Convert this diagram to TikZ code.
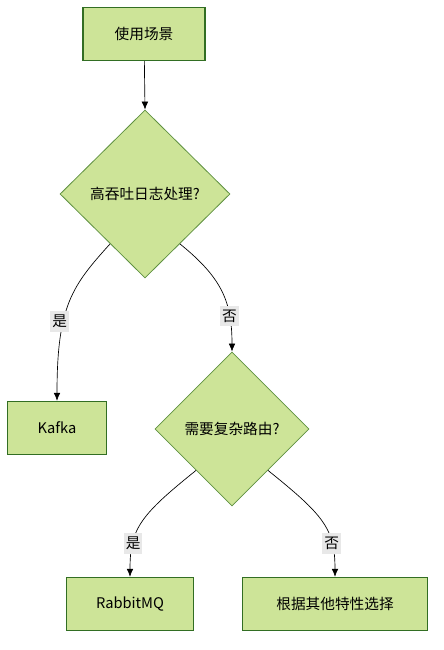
\documentclass[tikz,border=0pt]{standalone}
\usepackage{fontspec}
\setmainfont{Noto Sans CJK SC}
\usetikzlibrary{shapes.geometric,arrows.meta}
\definecolor{boxfill}{RGB}{205,228,152}
\definecolor{boxline}{RGB}{50,110,35}
\definecolor{diamline}{RGB}{95,145,65}
\definecolor{lblgray}{RGB}{232,232,232}
\begin{document}
\begin{tikzpicture}[
  x=0.75pt, y=-0.75pt,
  box/.style={shape=rectangle, draw=boxline, fill=boxfill,
    line width=0.8pt, minimum height=40pt,
    font=\fontsize{11}{13}\selectfont},
  decision/.style={shape=diamond, draw=diamline, fill=boxfill,
    line width=0.6pt, inner sep=0pt, aspect=1,
    font=\fontsize{11}{13}\selectfont},
  flow/.style={-{Latex[length=6pt,width=5pt]}, line width=0.5pt},
  lbl/.style={fill=lblgray, inner xsep=1.5pt, inner ysep=3pt,
    font=\fontsize{11}{13}\selectfont}
  ]
  \useasboundingbox (0,0) rectangle (443,650);
  % nodes
  \node[box, minimum width=91.5pt] (start) at (144,34) {使用场景};
  \node[decision, minimum width=127.5pt, minimum height=126pt] (logs) at (145,194) {高吞吐日志处理?};
  \node[box, minimum width=74.25pt] (kafka) at (57,428) {Kafka};
  \node[decision, minimum width=115.5pt, minimum height=115.5pt] (route) at (232,429) {需要复杂路由?};
  \node[box, minimum width=95.25pt] (rabbit) at (130,604) {RabbitMQ};
  \node[box, minimum width=138.75pt] (other) at (335,604) {根据其他特性选择};
  % edges
  \draw[flow] (logs.-125) .. controls +(-38,42) and +(0,-95) .. (kafka.north)
    node[lbl, pos=0.63, xshift=-3pt] {是};
  \draw[flow] (start) -- (logs.north);
  \draw[flow] (logs.-55) .. controls +(42,34) and +(0,-50) .. (route.north)
    node[lbl, pos=0.73] {否};
  \draw[flow] (route.-131) .. controls +(-56,45) and +(0,-48) .. (rabbit.north)
    node[lbl, pos=0.72] {是};
  \draw[flow] (route.-49) .. controls +(56,45) and +(0,-48) .. (other.north)
    node[lbl, pos=0.72] {否};
\end{tikzpicture}
\end{document}
